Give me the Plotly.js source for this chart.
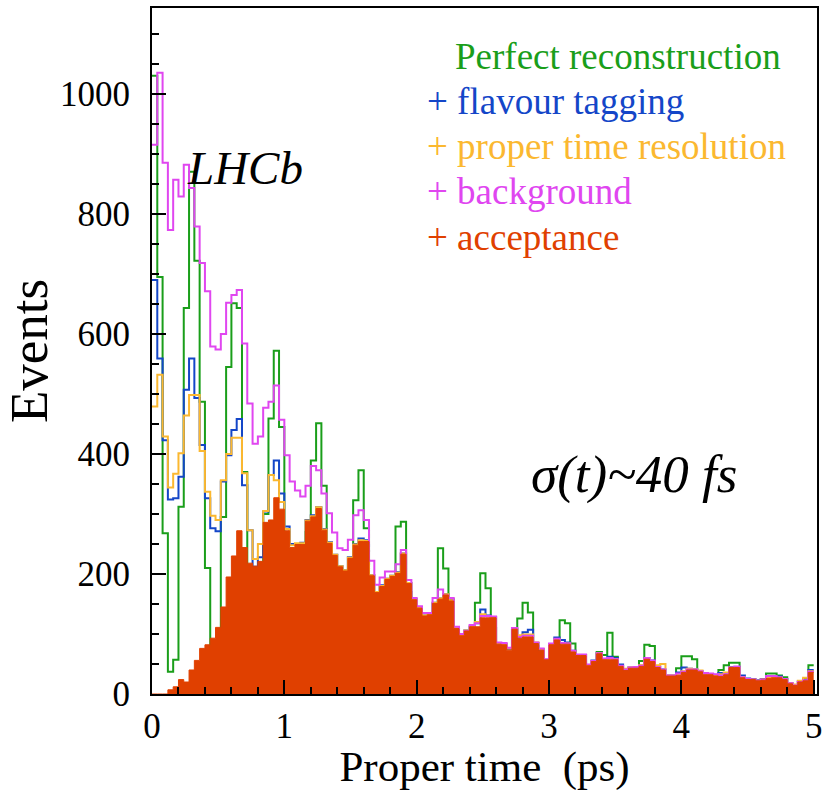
<!DOCTYPE html>
<html><head><meta charset="utf-8">
<script src="https://cdn.plot.ly/plotly-3.0.1.min.js"></script>
<style>html,body{margin:0;padding:0;background:#fff}#chart{width:823px;height:791px}</style>
</head><body><div id="chart"></div>
<script>
const binWidth = 0.04;
const perfect = [1030,695,268,37,57,312,643,870,722,487,
 210,45,40,295,545,651,643,370,140,40,
 70,300,459,572,445,200,90,30,80,270,
 389,451,347,180,60,25,80,200,323,373,
 276,130,40,25,70,170,279,287,170,80,
 25,30,90,150,243,209,158,70,25,30,
 80,152,201,176,110,50,15,30,70,126,
 152,136,80,30,12,30,80,123,118,84,
 40,15,15,35,70,65,102,62,30,10,
 15,35,55,82,80,40,30,10,15,43,
 63,63,58,30,12,10,22,40,48,52,
 52,25,10,8,15,25,34,34,31,28,
 12,5,10,25,48];
const flavourTagging = [690,559,423,324,326,362,507,559,493,415,
 326,276,271,354,398,440,458,348,273,212,
 228,304,365,389,334,279,250,250,252,290,
 298,311,275,253,232,213,206,228,250,259,
 256,198,170,181,192,197,203,234,185,158,
 144,131,133,152,159,166,156,110,97,106,
 112,118,141,131,128,84,83,75,108,94,
 103,107,85,74,57,83,94,90,86,72,
 65,65,48,56,68,58,62,60,49,39,
 44,44,47,60,56,46,41,31,31,36,
 44,42,41,38,34,33,30,35,33,45,
 45,31,26,25,23,24,29,29,29,25,
 18,15,21,23,40];
const timeResolution = [479,532,429,344,367,401,464,498,498,405,
 337,297,290,356,400,427,427,368,273,225,
 250,305,365,356,320,275,248,251,251,289,
 296,311,274,252,232,213,206,227,249,256,
 255,198,170,180,192,197,202,234,185,158,
 144,131,133,152,159,166,156,110,97,106,
 113,120,133,130,128,84,83,76,108,98,
 99,99,86,75,57,83,91,85,84,71,
 65,65,48,55,68,58,59,58,46,42,
 44,45,48,58,55,48,50,31,31,32,
 38,42,41,39,34,33,30,33,36,44,
 44,28,25,24,22,24,27,27,27,24,
 18,16,22,27,38];
const background = [915,1035,885,773,857,829,882,843,779,718,
 671,579,574,600,652,665,673,584,484,417,
 429,477,487,514,457,398,354,339,329,347,
 380,373,334,301,269,243,240,257,298,306,
 290,222,182,194,204,204,216,240,190,160,
 146,135,135,160,174,164,160,112,100,105,
 115,118,130,130,129,86,85,77,110,95,
 97,97,86,76,58,84,92,85,84,72,
 66,66,49,55,68,59,60,58,47,41,
 44,45,47,60,56,45,41,31,31,34,
 37,41,41,38,35,34,33,31,33,44,
 46,28,25,24,22,24,30,30,28,25,
 18,14,20,23,37];
const acceptance = [0,0,0,7,12,24,20,40,56,76,
 82,93,111,145,195,230,272,244,218,213,
 221,286,290,327,308,272,244,249,249,288,
 295,309,273,251,231,212,205,226,248,254,
 254,197,169,179,191,196,201,233,184,157,
 143,130,132,151,158,165,155,109,97,105,
 112,112,127,127,127,83,82,73,108,93,
 95,95,84,73,57,82,90,83,83,70,
 64,64,47,54,67,57,57,57,46,39,
 43,43,46,58,54,44,40,30,30,31,
 36,40,40,37,32,32,30,29,32,44,
 44,27,24,24,22,23,26,27,27,24,
 17,14,20,22,36];
const seriesNames = ["Perfect reconstruction","+ flavour tagging","+ proper time resolution","+ background","+ acceptance"];
const seriesColors = ["#1a9e1a","#1446c8","#fbb830","#e046f0","#e04000"];

const edges = perfect.map((_, i) => +(i * binWidth).toFixed(4)).concat([+(perfect.length * binWidth).toFixed(4)]);
const stepY = v => v.concat([v[v.length - 1]]);
const serif = "'Liberation Serif', 'Times New Roman', Times, serif";

const lineSeries = [perfect, flavourTagging, timeResolution, background];
const traces = lineSeries.map((v, k) => ({
  x: edges, y: stepY(v), type: "scatter", mode: "lines", name: seriesNames[k],
  line: {shape: "hv", color: seriesColors[k], width: 2}, hoverinfo: "skip"
}));
traces.push({
  x: edges, y: stepY(acceptance), type: "scatter", mode: "lines", name: seriesNames[4],
  line: {shape: "hv", color: seriesColors[4], width: 1}, fill: "tozeroy", fillcolor: seriesColors[4], hoverinfo: "skip"
});

const legendX = [453, 425, 425, 425, 425];
const legendY = [57, 102, 147, 192, 237];
const px2x = p => (p - 152) / 665;
const px2y = p => (694 - p) / 686;
const annotations = seriesNames.map((t, k) => ({
  text: t, xref: "paper", yref: "paper", x: px2x(legendX[k]), y: px2y(legendY[k]),
  xanchor: "left", yanchor: "middle", showarrow: false,
  font: {family: serif, size: 37, color: seriesColors[k]}
}));
annotations.push({text: "<i>LHCb</i>", xref: "paper", yref: "paper", x: px2x(245), y: px2y(168),
  xanchor: "center", yanchor: "middle", showarrow: false, font: {family: serif, size: 47, color: "#000"}});
annotations.push({text: "<i>σ(t)~40 fs</i>", xref: "paper", yref: "paper", x: px2x(634), y: px2y(474),
  xanchor: "center", yanchor: "middle", showarrow: false, font: {family: serif, size: 53, color: "#000"}});

const layout = {
  width: 823, height: 791,
  margin: {l: 152, r: 6, t: 8, b: 97},
  paper_bgcolor: "#fff", plot_bgcolor: "#fff",
  font: {family: serif, color: "#000"},
  showlegend: false,
  xaxis: {
    range: [0, 5.025], showgrid: false, zeroline: false,
    showline: true, linecolor: "#000", linewidth: 2, mirror: true,
    ticks: "inside", ticklen: 14, tickwidth: 2, tickcolor: "#000",
    tick0: 0, dtick: 1,
    minor: {dtick: 0.2, ticks: "inside", ticklen: 7, tickwidth: 2, tickcolor: "#000", showgrid: false},
    tickfont: {family: serif, size: 35, color: "#000"},
    title: {text: "Proper time  (ps)", font: {family: serif, size: 43, color: "#000"}, standoff: 0}
  },
  yaxis: {
    range: [0, 1143], showgrid: false, zeroline: false,
    showline: true, linecolor: "#000", linewidth: 2, mirror: true,
    ticks: "inside", ticklen: 14, tickwidth: 2, tickcolor: "#000",
    tick0: 0, dtick: 200,
    minor: {dtick: 50, ticks: "inside", ticklen: 7, tickwidth: 2, tickcolor: "#000", showgrid: false},
    tickfont: {family: serif, size: 35, color: "#000"},
    ticklabelstandoff: 13,
    title: {text: "Events", font: {family: serif, size: 53, color: "#000"}, standoff: 0}
  },
  annotations: annotations
};
Plotly.newPlot("chart", traces, layout, {staticPlot: true, displayModeBar: false});
</script>
</body></html>
